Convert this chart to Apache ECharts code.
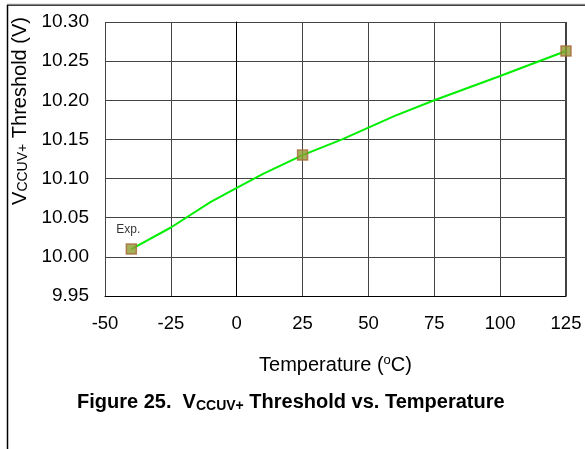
<!DOCTYPE html>
<html><head><meta charset="utf-8">
<script src="https://cdn.jsdelivr.net/npm/echarts@6/dist/echarts.min.js"></script>
<style>html,body{margin:0;padding:0;background:#fff}#c{width:585px;height:449px}</style>
</head><body><div id="c"></div>
<script>
// Data
const curveT = [-40, -25, -10, 0, 10, 25, 40, 60, 75, 100, 125];
const curveV = [10.01, 10.0375, 10.07, 10.088, 10.106, 10.13, 10.15, 10.18, 10.2, 10.231, 10.263];
const expT = [-40, 25, 125];
const expV = [10.01, 10.13, 10.263];
const xTicks = [-50, -25, 0, 25, 50, 75, 100, 125];
const yTicks = [9.95, 10.0, 10.05, 10.1, 10.15, 10.2, 10.25, 10.3];

const font = 'Liberation Sans, Arial, sans-serif';
const chart = echarts.init(document.getElementById('c'));
chart.setOption({
  animation: false,
  grid: {left: 105, top: 22, right: 19, bottom: 153, containLabel: false, show: false},
  xAxis: {
    type: 'value', min: -50, max: 125, interval: 25,
    axisLine: {show: true, lineStyle: {color: '#000', width: 1}},
    axisTick: {show: false},
    axisLabel: {fontFamily: font, fontSize: 18.5, color: '#000', margin: 18},
    splitLine: {show: true, lineStyle: {color: '#444', width: 1}},
    name: '{t|Temperature (}{sup|o}{t|C)}',
    nameLocation: 'middle', nameGap: 58,
    nameTextStyle: {rich: {
      t: {fontFamily: font, fontSize: 20, color: '#000'},
      sup: {fontFamily: font, fontSize: 13, color: '#000', verticalAlign: 'top', padding: [0, 0, 9, 0]}
    }}
  },
  yAxis: {
    type: 'value', min: 9.95, max: 10.3, interval: 0.05,
    axisLine: {show: true, lineStyle: {color: '#000', width: 1}},
    axisTick: {show: false},
    axisLabel: {fontFamily: font, fontSize: 19, color: '#000', margin: 16,
      formatter: v => v.toFixed(2)},
    splitLine: {show: true, lineStyle: {color: '#444', width: 1}}
  },
  series: [
    {
      type: 'line', data: curveT.map((t, i) => [t, curveV[i]]),
      showSymbol: false, symbol: 'none',
      lineStyle: {color: '#00ee00', width: 2}, z: 3
    },
    {
      type: 'scatter', data: expT.map((t, i) => [t, expV[i]]),
      symbol: 'rect', symbolSize: 10,
      itemStyle: {color: '#8f9a2f', borderColor: '#a8693a', borderWidth: 1.5},
      label: {show: true, position: 'top', distance: 8, fontFamily: font, fontSize: 12, color: '#000',
        offset: [-3, 0],
        formatter: p => p.dataIndex === 0 ? 'Exp.' : ''},
      z: 4
    }
  ],
  graphic: [
    {type: 'line', shape: {x1: 7, y1: 5, x2: 585, y2: 5}, style: {stroke: '#000', lineWidth: 1.5}},
    {type: 'line', shape: {x1: 7, y1: 4, x2: 585, y2: 4}, style: {stroke: '#ccc', lineWidth: 1}},
    {type: 'line', shape: {x1: 7.5, y1: 5, x2: 7.5, y2: 449}, style: {stroke: '#000', lineWidth: 1.5}},
    {type: 'line', shape: {x1: 566, y1: 22, x2: 566, y2: 296}, style: {stroke: '#000', lineWidth: 1.5}},
    {
      type: 'text', x: 20, y: 111, rotation: Math.PI / 2,
      style: {
        text: '{v|V}{s|CCUV+}{v| Threshold (V)}',
        align: 'center', verticalAlign: 'middle',
        rich: {
          v: {fontFamily: font, fontSize: 20, fill: '#000'},
          s: {fontFamily: font, fontSize: 14, fill: '#000', verticalAlign: 'bottom', padding: [4, 0, 0, 0]}
        }
      }
    },
    {
      type: 'text', x: 77, y: 402,
      style: {
        text: '{b|Figure 25.  V}{s|CCUV+}{b| Threshold vs. Temperature}',
        align: 'left', verticalAlign: 'middle',
        rich: {
          b: {fontFamily: font, fontSize: 20, fontWeight: 'bold', fill: '#000'},
          s: {fontFamily: font, fontSize: 14, fontWeight: 'bold', fill: '#000', verticalAlign: 'bottom', padding: [9, 0, 0, 0]}
        }
      }
    }
  ]
});
</script></body></html>
